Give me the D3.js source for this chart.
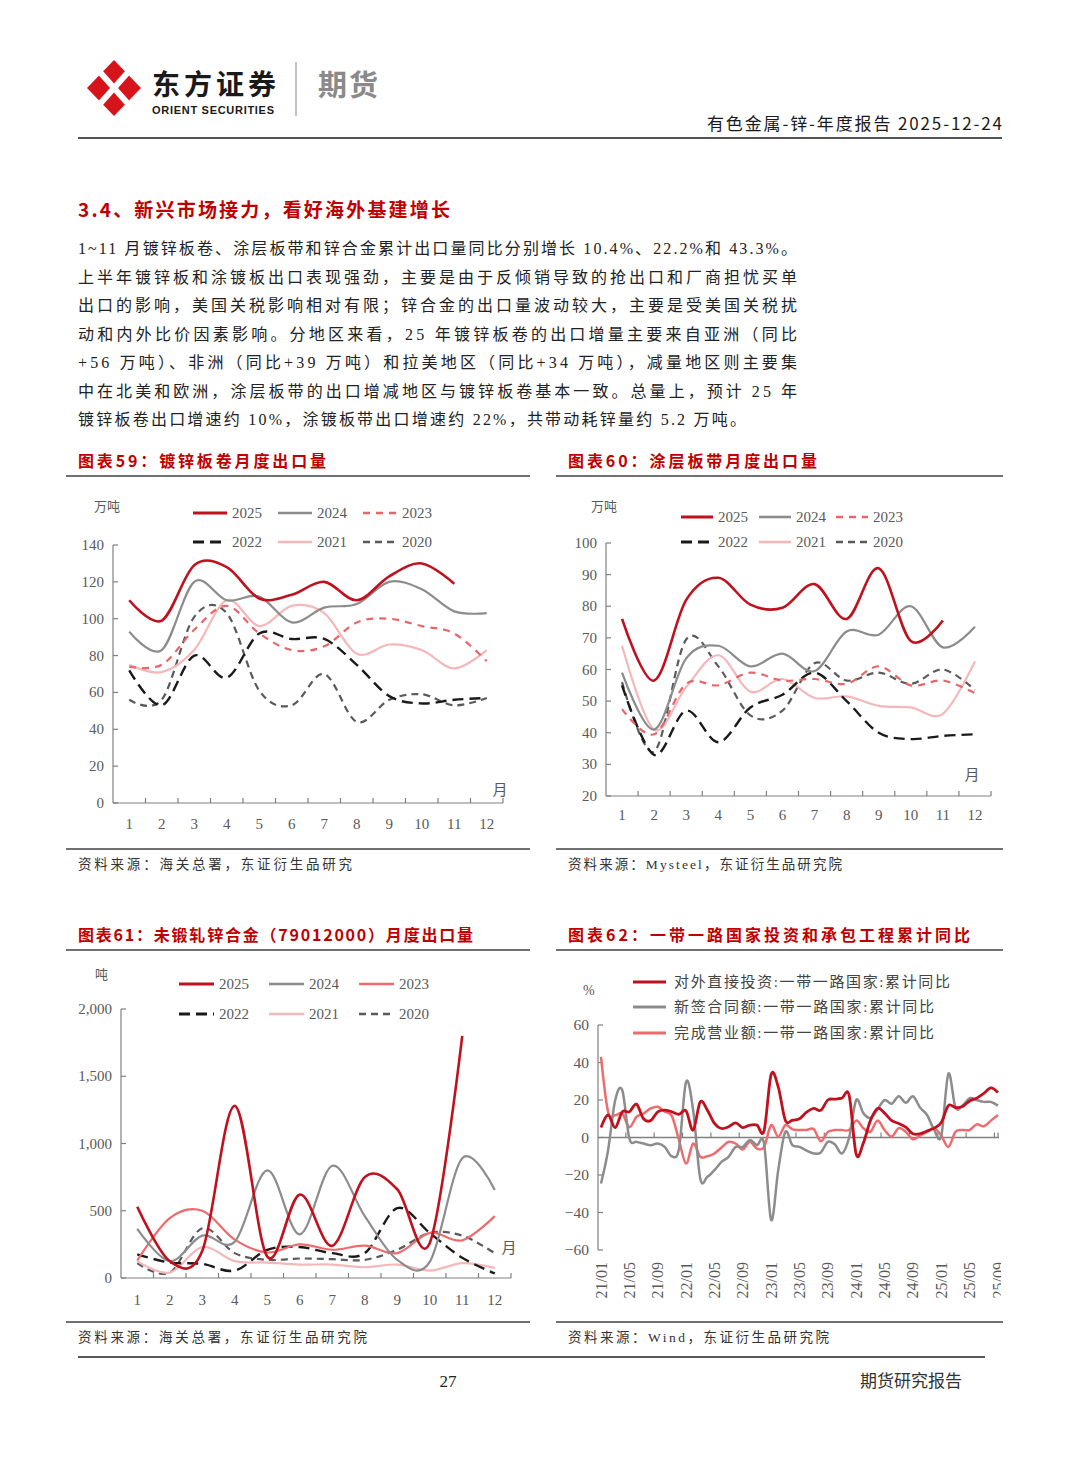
<!DOCTYPE html>
<html><head><meta charset="utf-8">
<script src="https://cdn.jsdelivr.net/npm/d3@7"></script>
<style>body{margin:0;background:#fff;} svg{display:block;}</style>
</head><body>
<svg id="page" width="1080" height="1466"></svg>
<script>
// ---------------- DATA ----------------
const months = ["1","2","3","4","5","6","7","8","9","10","11","12"];
const yearNames = ["2025","2024","2023","2022","2021","2020"];

// 图表59 镀锌板卷月度出口量 (万吨)
const galv2025 = [110, 99, 129, 128, 111, 113, 120, 110, 123, 130, 119];
const galv2024 = [93, 83, 120, 110, 112, 98, 106, 108, 120, 116, 104, 103];
const galv2023 = [74, 75, 94, 107, 92, 83, 85, 98, 100, 96, 92, 77];
const galv2022 = [72, 53, 80, 68, 92, 89, 89, 75, 58, 54, 56, 57];
const galv2021 = [75, 71, 83, 110, 96, 107, 103, 81, 86, 83, 73, 83];
const galv2020 = [56, 56, 101, 103, 61, 53, 70, 44, 56, 59, 53, 57];
const galvTicks = [0, 20, 40, 60, 80, 100, 120, 140];

// 图表60 涂层板带月度出口量 (万吨)
const coat2025 = [76, 56.5, 82, 89, 80.5, 79.5, 87, 76, 92, 69, 75.5];
const coat2024 = [59, 41, 63.5, 67.5, 61, 65, 59.5, 72, 71, 80, 67, 73.5];
const coat2023 = [47.5, 39.5, 55.5, 55, 59, 56.5, 57, 55.5, 61, 55, 56.5, 52.5];
const coat2022 = [55, 33, 47, 37, 48, 52, 59, 50, 40, 38, 39, 39.5];
const coat2021 = [67.5, 41, 54.5, 64.5, 53, 57, 51, 51.5, 48.5, 48, 46, 62.5];
const coat2020 = [56, 34, 69.5, 61, 45.5, 47, 62, 56.5, 59, 55.5, 60, 53.5];
const coatTicks = [20, 30, 40, 50, 60, 70, 80, 90, 100];

// 图表61 未锻轧锌合金月度出口量 (吨)
const alloy2025 = [530, 125, 200, 1280, 160, 620, 240, 750, 660, 260, 1800];
const alloy2024 = [365, 125, 315, 270, 800, 325, 835, 460, 135, 120, 890, 655];
const alloy2023 = [130, 445, 500, 285, 190, 250, 210, 240, 185, 335, 280, 460];
const alloy2022 = [175, 115, 105, 55, 210, 230, 185, 185, 520, 335, 150, 35];
const alloy2021 = [125, 40, 230, 125, 115, 100, 100, 80, 100, 55, 110, 75];
const alloy2020 = [110, 40, 370, 185, 135, 145, 140, 135, 210, 335, 315, 185];
const alloyTicks = [0, 500, 1000, 1500, 2000];

// 图表62 一带一路 累计同比 (%)
const brDates = ["21/01","21/02","21/03","21/04","21/05","21/06","21/07","21/08","21/09","21/10","21/11","21/12",
  "22/01","22/02","22/03","22/04","22/05","22/06","22/07","22/08","22/09","22/10","22/11","22/12",
  "23/01","23/02","23/03","23/04","23/05","23/06","23/07","23/08","23/09","23/10","23/11","23/12",
  "24/01","24/02","24/03","24/04","24/05","24/06","24/07","24/08","24/09","24/10","24/11","24/12",
  "25/01","25/02","25/03","25/04","25/05","25/06","25/07","25/08","25/09"];
const brTickLabels = ["21/01","21/05","21/09","22/01","22/05","22/09","23/01","23/05","23/09","24/01","24/05","24/09","25/01","25/05","25/09"];
const brFDI = [5.3, 12, 5.3, 13.7, 13.7, 17.8, 10, 9, 13.7, 14.6, 13.7, 12.4, 14.2, 3.9, 19, 14.6, 7.5, 4.8, 5.7, 7.8, 5.3, 6.6, 6.6, 3.6, 33.6, 27, 9.2, 9.2,
  10, 13.5, 15.5, 14.5, 20, 20.5, 21, 22.5, -9, -3, 9, 15.5, 13, 9, 7.5, 5.5, 2, 2, 3.5, 5, 8, 17, 16, 16.5, 19.5, 21, 23.5, 26.5, 24];
const brContract = [-24.5, -6.8, 19.9, 25.2, -0.5, -2.3, -3.2, -4.1, -3.2, -5, -10, -6, 29.7, 14.6, -21.9, -21, -17.4, -13, -10.3, -5, -5, -1.4, -4.1, -3.2, -44, -17.4, 3, -4.1,
  -5, -7, -8.5, -8, -2.3, -3.7, -8.5, 0, 20, 13, 10.5, 15, 20, 18, 22, 18.5, 22, 16, 12, 4, 1, 34, 16, 17, 21, 20, 19, 19, 17];
const brRevenue = [43, 13.7, 11.9, 12.8, 5.5, 11, 12.8, 15.5, 16.4, 13.7, 11.4, -1.4, -13.9, -3.2, -10.3, -10, -8.5, -5.3, -2.3, -3.2, -6.4, -2.3, -5.9, -5, 6.6, 0.4, 6.6, 4.3,
  4, 4, 4.5, -2, 3, 4, 4, 4, 9, 5, 3, 9, 4, 0.5, 5, 3, -1, 1, 3, 5, 1, -5, 3, 4, 4, 7, 6, 9, 12];
const brNames = ["对外直接投资:一带一路国家:累计同比","新签合同额:一带一路国家:累计同比","完成营业额:一带一路国家:累计同比"];
const brTicks = [-60, -40, -20, 0, 20, 40, 60];

// ---------------- STYLE ----------------
const SERIF = "'Liberation Serif','Noto Sans CJK SC',serif";
const CJK = "'Noto Sans CJK SC','Noto Sans',sans-serif";
const RED = "#c0111f";
const AXIS = "#808080";
const TICKTXT = "#595959";
const yearStyles = [
  {color: RED, width: 2.6, dash: null},
  {color: "#8c8c8c", width: 2.2, dash: null},
  {color: "#e8666a", width: 2.2, dash: "7,6"},
  {color: "#1a1a1a", width: 2.4, dash: "11,6"},
  {color: "#f5b8ba", width: 2.2, dash: null},
  {color: "#5a5a5a", width: 2.2, dash: "7,5"}
];

const svg = d3.select("#page");
svg.append("rect").attr("width",1080).attr("height",1466).attr("fill","#fff");

function txt(g, s, x, y, o = {}) {
  const t = g.append("text").attr("x", x).attr("y", y).text(s)
    .attr("font-family", o.family || CJK).attr("font-size", o.size || 14)
    .attr("fill", o.fill || "#222").attr("font-weight", o.weight || 400);
  if (o.anchor) t.attr("text-anchor", o.anchor);
  if (o.len) t.attr("textLength", o.len).attr("lengthAdjust", "spacing");
  return t;
}
function hline(x1, x2, y, color, w) {
  svg.append("line").attr("x1",x1).attr("x2",x2).attr("y1",y).attr("y2",y).attr("stroke",color).attr("stroke-width",w);
}

// ---------------- HEADER ----------------
const logo = svg.append("g");
logo.append("path").attr("d","M114,60 L141,88 L114,116 L87,88 Z").attr("fill","#d6141b");
logo.append("line").attr("x1",98).attr("y1",70).attr("x2",130).attr("y2",106).attr("stroke","#fff").attr("stroke-width",6);
logo.append("line").attr("x1",130).attr("y1",70).attr("x2",98).attr("y2",106).attr("stroke","#fff").attr("stroke-width",6);
txt(svg, "东方证券", 152, 95, {size: 28, weight: 700, fill: "#1a1a1a", len: 124});
txt(svg, "ORIENT SECURITIES", 152, 114, {family: "'Liberation Sans',Arial,sans-serif", size: 11, weight: 700, fill: "#1a1a1a", len: 122});
svg.append("line").attr("x1",296).attr("x2",296).attr("y1",62).attr("y2",116).attr("stroke","#999").attr("stroke-width",1.2);
txt(svg, "期货", 318, 96, {size: 29, weight: 700, fill: "#8a8a8a", len: 60});
txt(svg, "有色金属-锌-年度报告 2025-12-24", 707, 130, {size: 17, fill: "#1a1a1a", len: 295});
hline(78, 1002, 138, "#555", 2);

// ---------------- SECTION TEXT ----------------
txt(svg, "3.4、新兴市场接力，看好海外基建增长", 78, 217, {size: 19, weight: 700, fill: "#c00000", len: 372});
const para = [
  "1~11 月镀锌板卷、涂层板带和锌合金累计出口量同比分别增长 10.4%、22.2%和 43.3%。",
  "上半年镀锌板和涂镀板出口表现强劲，主要是由于反倾销导致的抢出口和厂商担忧买单",
  "出口的影响，美国关税影响相对有限；锌合金的出口量波动较大，主要是受美国关税扰",
  "动和内外比价因素影响。分地区来看，25 年镀锌板卷的出口增量主要来自亚洲（同比",
  "+56 万吨）、非洲（同比+39 万吨）和拉美地区（同比+34 万吨），减量地区则主要集",
  "中在北美和欧洲，涂层板带的出口增减地区与镀锌板卷基本一致。总量上，预计 25 年",
  "镀锌板卷出口增速约 10%，涂镀板带出口增速约 22%，共带动耗锌量约 5.2 万吨。"
];
para.forEach((s, i) => {
  txt(svg, s, 78, 254 + i * 28.5, {family: SERIF, size: 16, fill: "#222", len: i === 6 ? 668 : 719});
});

// ---------------- FRAMES & CAPTIONS ----------------
function caption(title, tlen, x, x2, yTitle, source, slen, ySource) {
  txt(svg, title, x + 12, yTitle, {size: 16, weight: 700, fill: "#c00000", len: tlen});
  hline(x, x2, yTitle + 9, "#404040", 1.5);
  hline(x, x2, ySource - 20, "#404040", 1.5);
  txt(svg, source, x + 12, ySource, {family: SERIF, size: 13.5, fill: "#333", len: slen});
}
caption("图表59：镀锌板卷月度出口量", 248, 66, 530, 467, "资料来源：海关总署，东证衍生品研究", 274, 869);
caption("图表60：涂层板带月度出口量", 249, 556, 1003, 467, "资料来源：Mysteel，东证衍生品研究院", 274, 869);
caption("图表61：未锻轧锌合金（79012000）月度出口量", 395, 66, 530, 941, "资料来源：海关总署，东证衍生品研究院", 289, 1342);
caption("图表62：一带一路国家投资和承包工程累计同比", 402, 556, 1003, 941, "资料来源：Wind，东证衍生品研究院", 261, 1342);

// ---------------- FOOTER ----------------
hline(78, 985, 1357, "#222", 1.5);
txt(svg, "27", 448, 1387, {family: SERIF, size: 17, fill: "#222", anchor: "middle"});
txt(svg, "期货研究报告", 962, 1387, {size: 17, fill: "#333", anchor: "end"});

// ---------------- YEAR CHARTS ----------------
const smooth = d3.curveCardinal.tension(0);

function yearChart(o) {
  const g = svg.append("g");
  const x = d3.scaleBand().domain(months).range([o.left, o.right]).padding(0);
  const y = d3.scaleLinear().domain(o.domain).range([o.bottom, o.top]);
  const bw = x.bandwidth();
  g.append("line").attr("x1", o.left).attr("x2", o.left).attr("y1", y(o.domain[1])).attr("y2", y(o.domain[0])).attr("stroke", AXIS).attr("stroke-width", 1.2);
  g.append("line").attr("x1", o.left).attr("x2", o.right).attr("y1", y(o.domain[0])).attr("y2", y(o.domain[0])).attr("stroke", AXIS).attr("stroke-width", 1.2);
  o.ticks.forEach(v => {
    g.append("line").attr("x1", o.left).attr("x2", o.left + 5).attr("y1", y(v)).attr("y2", y(v)).attr("stroke", AXIS).attr("stroke-width", 1.2);
    txt(g, o.fmt(v), o.left - 9, y(v) + 5, {family: SERIF, size: 15, fill: TICKTXT, anchor: "end"});
  });
  months.forEach((m, i) => {
    const bx = x(m) + bw;
    g.append("line").attr("x1", bx).attr("x2", bx).attr("y1", y(o.domain[0])).attr("y2", y(o.domain[0]) - 5).attr("stroke", AXIS).attr("stroke-width", 1.2);
    txt(g, m, x(m) + bw / 2, o.xLabelY, {family: SERIF, size: 15, fill: TICKTXT, anchor: "middle"});
  });
  const line = d3.line().x((d, i) => x(months[i]) + bw / 2).y(d => y(d)).curve(smooth);
  for (let k = o.series.length - 1; k >= 0; k--) {
    const st = o.styles[k];
    const p = g.append("path").attr("d", line(o.series[k])).attr("fill", "none")
      .attr("stroke", st.color).attr("stroke-width", st.width).attr("stroke-linejoin", "round");
    if (st.dash) p.attr("stroke-dasharray", st.dash);
  }
  yearNames.forEach((nm, k) => {
    const col = k % 3, row = Math.floor(k / 3);
    const lx = o.legCols[col], ly = o.legRows[row], st = o.styles[k];
    const p = g.append("line").attr("x1", lx).attr("x2", lx + o.legLen).attr("y1", ly).attr("y2", ly)
      .attr("stroke", st.color).attr("stroke-width", st.width + 0.4);
    if (st.dash) p.attr("stroke-dasharray", st.dash);
    txt(g, nm, lx + o.legLen + 5, ly + 5, {family: SERIF, size: 15, fill: TICKTXT});
  });
  txt(g, o.unit, o.unitX, o.unitY, {family: SERIF, size: 13, fill: TICKTXT});
  txt(g, "月", o.monthX, o.monthY, {family: SERIF, size: 15, fill: TICKTXT, anchor: "middle"});
}

yearChart({
  left: 113, right: 503, top: 545, bottom: 803, domain: [0, 140], ticks: galvTicks, fmt: d3.format("d"),
  xLabelY: 829,
  series: [galv2025, galv2024, galv2023, galv2022, galv2021, galv2020], styles: yearStyles,
  legCols: [193, 278, 363], legRows: [513, 542], legLen: 34,
  unit: "万吨", unitX: 94, unitY: 511, monthX: 500, monthY: 795
});
yearChart({
  left: 606, right: 991, top: 543, bottom: 796, domain: [20, 100], ticks: coatTicks, fmt: d3.format("d"),
  xLabelY: 820,
  series: [coat2025, coat2024, coat2023, coat2022, coat2021, coat2020], styles: yearStyles,
  legCols: [681, 759, 836], legRows: [517, 542], legLen: 32,
  unit: "万吨", unitX: 591, unitY: 511, monthX: 972, monthY: 780
});
const alloyStyles = yearStyles.map((s, k) => k === 2 ? {color: "#ee6a6d", width: 2.2, dash: null} : s);
yearChart({
  left: 121, right: 511, top: 1009, bottom: 1278, domain: [0, 2000], ticks: alloyTicks, fmt: d3.format(","),
  xLabelY: 1305,
  series: [alloy2025, alloy2024, alloy2023, alloy2022, alloy2021, alloy2020], styles: alloyStyles,
  legCols: [179, 269, 359], legRows: [984, 1014], legLen: 35,
  unit: "吨", unitX: 95, unitY: 979, monthX: 509, monthY: 1253
});

// ---------------- CHART 62 ----------------
(function () {
  const defs = svg.append("defs");
  defs.append("clipPath").attr("id", "c62").append("rect").attr("x", 556).attr("y", 950).attr("width", 445).attr("height", 370);
  const g = svg.append("g").attr("clip-path", "url(#c62)");
  const x = d3.scaleLinear().domain([0, brDates.length - 1]).range([601, 998]);
  const y = d3.scaleLinear().domain([-60, 60]).range([1250, 1025]);
  g.append("line").attr("x1", 598).attr("x2", 598).attr("y1", y(60)).attr("y2", y(-60)).attr("stroke", AXIS).attr("stroke-width", 1.2);
  brTicks.forEach(v => {
    g.append("line").attr("x1", 598).attr("x2", 603).attr("y1", y(v)).attr("y2", y(v)).attr("stroke", AXIS).attr("stroke-width", 1.2);
    txt(g, d3.format("d")(v), 589, y(v) + 5, {family: SERIF, size: 15.5, fill: TICKTXT, anchor: "end"});
  });
  g.append("line").attr("x1", 598).attr("x2", 999).attr("y1", y(0)).attr("y2", y(0)).attr("stroke", AXIS).attr("stroke-width", 1.4);
  brTickLabels.forEach((lab, k) => {
    const i = brDates.indexOf(lab);
    const tx = k < brTickLabels.length - 1 ? x(i + 3.5) : x(i);
    g.append("line").attr("x1", tx).attr("x2", tx).attr("y1", y(0)).attr("y2", y(0) - 5).attr("stroke", AXIS).attr("stroke-width", 1.2);
    txt(g, lab, 0, 0, {family: SERIF, size: 16, fill: TICKTXT, anchor: "end"})
      .attr("transform", `translate(${x(i) + 5.5},1262) rotate(-90)`);
  });
  const line = d3.line().x((d, i) => x(i)).y(d => y(d)).curve(smooth);
  const series = [brFDI, brContract, brRevenue];
  const cols = [RED, "#8c8c8c", "#f06b6e"];
  [2, 1, 0].forEach(k => {
    g.append("path").attr("d", line(series[k])).attr("fill", "none").attr("stroke", cols[k])
      .attr("stroke-width", k === 0 ? 2.8 : 2.5).attr("stroke-linejoin", "round");
  });
  const legY = [982, 1007, 1033], legLen = [276, 260, 260];
  brNames.forEach((nm, k) => {
    g.append("line").attr("x1", 633).attr("x2", 666).attr("y1", legY[k]).attr("y2", legY[k]).attr("stroke", cols[k]).attr("stroke-width", 3);
    txt(g, nm, 674, legY[k] + 5, {family: SERIF, size: 15, fill: "#444", len: legLen[k]});
  });
  txt(g, "%", 583, 995, {family: SERIF, size: 14, fill: TICKTXT});
})();
</script>
</body></html>
